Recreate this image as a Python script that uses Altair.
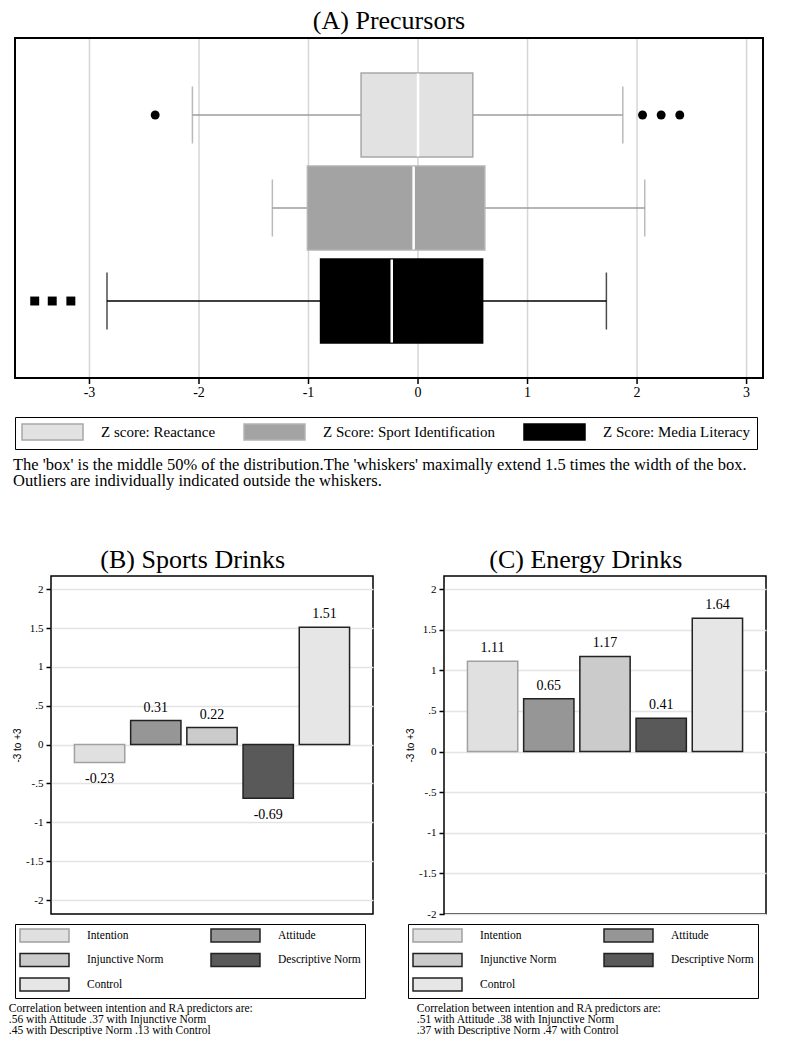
import altair as alt
import pandas as pd

# ---------------- data ----------------
series = ["Z score: Reactance", "Z Score: Sport Identification", "Z Score: Media Literacy"]
whisker_low = [-2.06, -1.33, -2.84]
quartile_1 = [-0.52, -1.01, -0.89]
medians = [0.0, -0.04, -0.24]
quartile_3 = [0.50, 0.61, 0.59]
whisker_high = [1.87, 2.07, 1.72]

outlier_series = ["Z score: Reactance"] * 4 + ["Z Score: Media Literacy"] * 3
outlier_values = [-2.40, 2.05, 2.22, 2.39, -3.50, -3.34, -3.17]

predictors = ["Intention", "Attitude", "Injunctive Norm", "Descriptive Norm", "Control"]
sports_drinks = [-0.23, 0.31, 0.22, -0.69, 1.51]
energy_drinks = [1.11, 0.65, 1.17, 0.41, 1.64]

z_domain = [-3.68, 3.15]
z_ticks = [-3, -2, -1, 0, 1, 2, 3]
bar_ticks = [-2, -1.5, -1, -0.5, 0, 0.5, 1, 1.5, 2]

note_a = ["The 'box' is the middle 50% of the distribution.The 'whiskers' maximally extend 1.5 times the width of the box.",
          "Outliers are individually indicated outside the whiskers."]
note_b = ["Correlation between intention and RA predictors are:",
          ".56 with Attitude .37 with Injunctive Norm",
          ".45 with Descriptive Norm .13 with Control"]
note_c = ["Correlation between intention and RA predictors are:",
          ".51 with Attitude .38 with Injunctive Norm",
          ".37 with Descriptive Norm .47 with Control"]

# ---------------- styles ----------------
SERIF = "Liberation Serif"
SANS = "Liberation Sans"
box_fill = ["#e2e2e2", "#a3a3a3", "#000000"]
box_stroke = ["#a8a8a8", "#b4b4b4", "#000000"]
pred_fill = ["#e0e0e0", "#969696", "#cbcbcb", "#595959", "#e6e6e6"]
pred_stroke = ["#a0a0a0", "#222222", "#222222", "#222222", "#222222"]

# ---------------- panel A ----------------
box_df = pd.DataFrame({"series": series, "lo": whisker_low, "q1": quartile_1,
                       "med": medians, "q3": quartile_3, "hi": whisker_high})
out_df = pd.DataFrame({"series": outlier_series, "value": outlier_values})
frame_df = pd.DataFrame({"lo": [z_domain[0]], "hi": [z_domain[1]]})
tick_df = pd.DataFrame({"tick": z_ticks})

is_media = f"datum.series == '{series[2]}'"

# the panel's scale reaches 36px left of its plot origin so that it lines up with the
# y axes of the two panels below; its grid, ticks and labels are drawn through that scale
xa_scale = alt.Scale(domain=z_domain, range=[-36, 712], nice=False, zero=False)
ya = alt.Y("series:N", sort=series,
           scale=alt.Scale(domain=series, paddingInner=0.097, paddingOuter=0.376), axis=None)
legend_a = alt.Legend(title=None, orient="none", legendX=-36, legendY=379,
                      direction="horizontal", columns=3,
                      symbolType="M-3.8125,-1H3.8125V1H-3.8125Z", symbolSize=256,
                      symbolStrokeWidth=1.5, symbolOpacity=1, symbolOffset=22.5,
                      labelFont=SERIF, labelFontSize=15, labelColor="black",
                      labelOffset=39.5, labelLimit=500, columnPadding=25, padding=6,
                      strokeColor="black")
wcolor = alt.condition(is_media, alt.value("#000000"), alt.value("#9c9c9c"))

grid_a = alt.Chart(tick_df).mark_rule(color="#d6d6d6", strokeWidth=1.5).encode(
    x=alt.X("tick:Q", scale=xa_scale, axis=None), y=alt.value(0), y2=alt.value("height"))
whiskers = alt.Chart(box_df).mark_rule(strokeWidth=1.5).encode(
    x=alt.X("lo:Q", scale=xa_scale, axis=None), x2="hi:Q", y=ya, color=wcolor)
caps = alt.Chart(box_df).transform_fold(["lo", "hi"], as_=["end", "value"]).mark_tick(
    size=57, thickness=1.5).encode(
    x=alt.X("value:Q", scale=xa_scale, axis=None), y=ya, color=wcolor)
boxes = alt.Chart(box_df).mark_bar(strokeWidth=1.5, opacity=1).encode(
    x=alt.X("q1:Q", scale=xa_scale, axis=None), x2="q3:Q", y=ya,
    fill=alt.Fill("series:N", scale=alt.Scale(domain=series, range=box_fill), legend=legend_a),
    stroke=alt.Stroke("series:N", scale=alt.Scale(domain=series, range=box_stroke), legend=legend_a))
med_lines = alt.Chart(box_df).mark_tick(size=83, thickness=2.5, color="white", opacity=1).encode(
    x=alt.X("med:Q", scale=xa_scale, axis=None), y=ya)
outliers = alt.Chart(out_df).mark_point(filled=True, size=80, opacity=1, color="black").encode(
    x=alt.X("value:Q", scale=xa_scale, axis=None), y=ya,
    shape=alt.condition(is_media, alt.value("square"), alt.value("circle")))
frame_a = alt.Chart(frame_df).mark_rect(fillOpacity=0, stroke="black", strokeWidth=2).encode(
    x=alt.X("lo:Q", scale=xa_scale, axis=None), x2="hi:Q",
    y=alt.value(0), y2=alt.value("height"))
ticks_a = alt.Chart(tick_df).mark_tick(orient="vertical", size=6, thickness=1.5, yOffset=3,
                                       color="black", opacity=1).encode(
    x=alt.X("tick:Q", scale=xa_scale, axis=None), y=alt.value("height"))
labels_a = alt.Chart(tick_df).transform_calculate(lab="datum.tick + ''").mark_text(
    font=SERIF, fontSize=14, color="black", baseline="top", dy=8).encode(
    x=alt.X("tick:Q", scale=xa_scale, axis=None), y=alt.value("height"), text="lab:N")

chart_a = alt.layer(grid_a, whiskers, caps, boxes, med_lines, outliers, frame_a, ticks_a,
                    labels_a).properties(
    width=712, height=340,
    title=alt.Title("(A) Precursors", font=SERIF, fontSize=26, fontWeight="normal", color="black",
                    anchor="middle", frame="bounds", offset=3),
    view=alt.ViewBackground(strokeOpacity=0))

group_a = alt.vconcat(chart_a, title=alt.Title(note_a, orient="bottom", anchor="start", font=SERIF,
                                               fontSize=16.5, lineHeight=16, fontWeight="normal",
                                               color="black", offset=7, dx=-1))


# ---------------- panels B and C ----------------
def drink_panel(values, heading, note, domain, note_dx):
    df = pd.DataFrame({"predictor": predictors, "value": values})
    base = alt.Chart(df).transform_calculate(
        label="replace(format(datum.value, '.2f'), '\u2212', '-')")
    x = alt.X("predictor:N", sort=predictors,
              scale=alt.Scale(domain=predictors, paddingInner=0.105, paddingOuter=0.417), axis=None)
    y = alt.Y("value:Q", scale=alt.Scale(domain=domain, nice=False, zero=False),
              axis=alt.Axis(values=bar_ticks, title="-3 to +3", titleFont=SANS, titleFontSize=10,
                            titleFontWeight="normal", titleColor="black", titlePadding=3,
                            grid=True, gridColor="#e4e4e4", gridWidth=1.5, domain=False,
                            tickColor="black", tickSize=5, tickWidth=1.5, labelFont=SERIF,
                            labelFontSize=11, labelColor="black", labelPadding=3,
                            labelExpr="replace(datum.value + '', '0.', '.')"))
    legend_b = alt.Legend(title=None, orient="none", legendX=-36, legendY=348,
                          direction="horizontal", columns=2,
                          symbolType="M-3.769,-1H3.769V1H-3.769Z", symbolSize=169,
                          symbolStrokeWidth=1.5, symbolOpacity=1, symbolOffset=18,
                          labelFont=SERIF, labelFontSize=11.5, labelColor="black",
                          labelOffset=35, labelLimit=300, columnPadding=44, rowPadding=5.5,
                          padding=4, strokeColor="black")
    bars = base.mark_bar(strokeWidth=1.5, opacity=1).encode(
        x=x, y=y, y2=alt.datum(0),
        fill=alt.Fill("predictor:N", scale=alt.Scale(domain=predictors, range=pred_fill), legend=legend_b),
        stroke=alt.Stroke("predictor:N", scale=alt.Scale(domain=predictors, range=pred_stroke),
                          legend=legend_b))
    pos = base.transform_filter("datum.value >= 0").mark_text(
        dy=-13, font=SERIF, fontSize=14, color="black").encode(x=x, y=y, text="label:N")
    neg = base.transform_filter("datum.value < 0").mark_text(
        dy=17, font=SERIF, fontSize=14, color="black").encode(x=x, y=y, text="label:N")
    ch = alt.layer(bars, pos, neg).properties(
        width=322, height=338,
        title=alt.Title(heading, font=SERIF, fontSize=26, fontWeight="normal", color="black",
                        anchor="middle", frame="bounds", offset=3),
        view=alt.ViewBackground(stroke="black", strokeWidth=1.5))
    return alt.vconcat(ch, title=alt.Title(note, orient="bottom", anchor="start", font=SERIF,
                                           fontSize=11.5, lineHeight=11, fontWeight="normal",
                                           color="black", offset=4, dx=note_dx))


group_b = drink_panel(sports_drinks, "(B) Sports Drinks", note_b, [-2.18, 2.17], -3)
group_c = drink_panel(energy_drinks, "(C) Energy Drinks", note_c, [-2.0, 2.16], 12)

bottom = alt.hconcat(group_b, group_c, spacing=30).resolve_scale(
    fill="independent", stroke="independent").resolve_legend(fill="independent", stroke="independent")

chart = alt.vconcat(group_a, bottom, spacing=57).resolve_scale(
    fill="independent", stroke="independent", x="independent", y="independent").resolve_legend(
    fill="independent", stroke="independent").properties(
    padding={"left": 0, "top": 0, "right": 0, "bottom": 0}, background="white")

chart.save("out.html", embed_options={"renderer": "svg", "actions": False})
